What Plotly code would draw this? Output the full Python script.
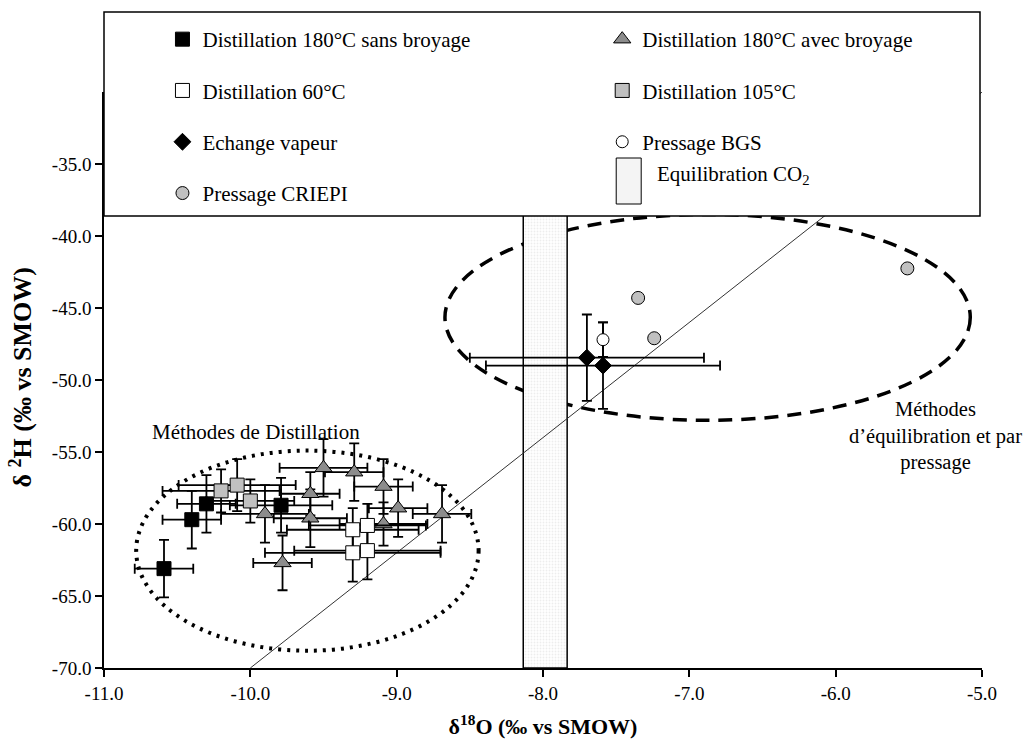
import plotly.graph_objects as go

# ---------------- data ----------------
SANS_X = [-10.59, -10.40, -10.30, -9.79]
SANS_Y = [-63.1, -59.7, -58.6, -58.7]
SANS_EX = [0.2, 0.2, 0.2, 0.35]
SANS_EY = [2.0, 2.0, 2.0, 1.9]

AVEC_X = [-9.90, -9.78, -9.59, -9.59, -9.50, -9.29, -9.09, -8.99, -8.69, -9.09]
AVEC_Y = [-59.3, -62.7, -57.9, -59.6, -56.1, -56.4, -57.4, -58.9, -59.3, -60.0]
AVEC_EX = [0.3, 0.2, 0.2, 0.25, 0.3, 0.2, 0.2, 0.2, 0.2, 0.3]
AVEC_EY = [2.0, 1.9, 1.5, 2.0, 2.0, 2.0, 1.9, 2.0, 2.0, 1.5]

D60_X = [-9.30, -9.20, -9.30, -9.20]
D60_Y = [-60.4, -60.1, -62.0, -61.85]
D60_EX = [0.45, 0.4, 0.6, 0.5]
D60_EY = [1.5, 1.5, 2.0, 2.0]

D105_X = [-10.20, -10.09, -10.00]
D105_Y = [-57.7, -57.3, -58.4]
D105_EX = [0.4, 0.4, 0.3]
D105_EY = [1.5, 1.8, 1.5]

ECH_X = [-7.70, -7.59]
ECH_Y = [-48.45, -49.0]
ECH_EX = [0.8, 0.8]
ECH_EY = [3.0, 3.0]

BGS_X = [-7.59]
BGS_Y = [-47.2]
BGS_EY = [1.2]

CRIEPI_X = [-7.35, -7.24, -5.51]
CRIEPI_Y = [-44.3, -47.1, -42.25]

CO2_X = [-7.985]
CO2_WIDTH = [0.3]
CO2_BASE = [-70.0]
CO2_TOP = [-30.0]

GMWL_X = [-10.0, -5.0]
GMWL_SLOPE = 8.0
GMWL_INTERCEPT = 10.0

X_TICKS = [-11, -10, -9, -8, -7, -6, -5]
X_TICK_LABELS = ["-11.0", "-10.0", "-9.0", "-8.0", "-7.0", "-6.0", "-5.0"]
Y_TICKS = [-70, -65, -60, -55, -50, -45, -40, -35]
Y_TICK_LABELS = ["-70.0", "-65.0", "-60.0", "-55.0", "-50.0", "-45.0", "-40.0", "-35.0"]

# ellipses (data coordinates)
DIST_ELLIPSE = dict(x0=-10.78, x1=-8.44, y0=-68.8, y1=-54.9)
EQUI_ELLIPSE = dict(x0=-8.67, x1=-5.08, y0=-52.8, y1=-38.5)

FONT = "Liberation Serif"

fig = go.Figure()

def err(arr):
    return dict(type="data", array=arr, visible=True, color="black", thickness=1.8, width=5)

# CO2 bar
fig.add_trace(go.Bar(
    x=CO2_X, y=[t - b for t, b in zip(CO2_TOP, CO2_BASE)], base=CO2_BASE, width=CO2_WIDTH,
    marker=dict(color="white", line=dict(color="black", width=1.5),
                pattern=dict(shape=".", fgcolor="#dcdcdc", size=3, solidity=0.3)),
    showlegend=False, hoverinfo="skip"))

# meteoric water line
fig.add_trace(go.Scatter(
    x=GMWL_X, y=[GMWL_SLOPE * v + GMWL_INTERCEPT for v in GMWL_X], mode="lines",
    line=dict(color="#333333", width=1), showlegend=False, hoverinfo="skip"))

fig.add_trace(go.Scatter(
    x=SANS_X, y=SANS_Y, mode="markers", name="Distillation 180°C sans broyage",
    marker=dict(symbol="square", size=14, color="black", line=dict(color="black", width=1)),
    error_x=err(SANS_EX), error_y=err(SANS_EY), legend="legend", legendgroup="a"))

fig.add_trace(go.Scatter(
    x=AVEC_X, y=AVEC_Y, mode="markers", name="Distillation 180°C avec broyage",
    marker=dict(symbol="triangle-up", size=15, color="#8c8c8c", line=dict(color="black", width=1)),
    error_x=err(AVEC_EX), error_y=err(AVEC_EY), legend="legend2", legendgroup="b"))

fig.add_trace(go.Scatter(
    x=D60_X, y=D60_Y, mode="markers", name="Distillation 60°C",
    marker=dict(symbol="square", size=14, color="white", line=dict(color="black", width=1)),
    error_x=err(D60_EX), error_y=err(D60_EY), legend="legend", legendgroup="c"))

fig.add_trace(go.Scatter(
    x=D105_X, y=D105_Y, mode="markers", name="Distillation 105°C",
    marker=dict(symbol="square", size=14, color="#c0c0c0", line=dict(color="black", width=1)),
    error_x=err(D105_EX), error_y=err(D105_EY), legend="legend2", legendgroup="d"))

fig.add_trace(go.Scatter(
    x=ECH_X, y=ECH_Y, mode="markers", name="Echange vapeur",
    marker=dict(symbol="diamond", size=13, color="black", line=dict(color="black", width=1)),
    error_x=err(ECH_EX), error_y=err(ECH_EY), legend="legend", legendgroup="e"))

fig.add_trace(go.Scatter(
    x=BGS_X, y=BGS_Y, mode="markers", name="Pressage BGS",
    marker=dict(symbol="circle", size=12, color="white", line=dict(color="black", width=1)),
    error_y=err(BGS_EY), legend="legend2", legendgroup="f"))

fig.add_trace(go.Scatter(
    x=CRIEPI_X, y=CRIEPI_Y, mode="markers", name="Pressage CRIEPI",
    marker=dict(symbol="circle", size=13, color="#c0c0c0", line=dict(color="black", width=1)),
    legend="legend", legendgroup="g"))

# ---------------- layout ----------------
L, R, T, B = 103.5, 46, 92, 78
W, H = 1028, 746
pw, ph = W - L - R, H - T - B

def px2paper_x(px):
    return (px - L) / pw

def px2paper_y(py):
    return (H - B - py) / ph

shapes = [
    dict(type="circle", xref="x", yref="y", layer="below",
         line=dict(color="black", width=4, dash="3px,6px"), **DIST_ELLIPSE),
    dict(type="circle", xref="x", yref="y", layer="below",
         line=dict(color="black", width=3.5, dash="14px,9px"), **EQUI_ELLIPSE),
    # legend box
    dict(type="rect", xref="paper", yref="paper", layer="above",
         x0=px2paper_x(103.5), x1=px2paper_x(980), y0=px2paper_y(216), y1=px2paper_y(12),
         fillcolor="white", line=dict(color="black", width=1.5)),
    # CO2 legend symbol
    dict(type="rect", xref="paper", yref="paper", layer="above",
         x0=px2paper_x(616), x1=px2paper_x(641), y0=px2paper_y(204), y1=px2paper_y(158),
         fillcolor="#f4f4f4", line=dict(color="black", width=1)),
]

annotations = [
    dict(text="Equilibration CO<sub>2</sub>", xref="paper", yref="paper",
         x=px2paper_x(655), y=px2paper_y(175), xanchor="left", yanchor="middle",
         showarrow=False, font=dict(family=FONT, size=21, color="black")),
    dict(text="Méthodes de Distillation", xref="x", yref="y", x=-9.96, y=-53.6,
         xanchor="center", yanchor="middle", showarrow=False,
         font=dict(family=FONT, size=21, color="black")),
    dict(text="Méthodes<br>d’équilibration et par<br>pressage", xref="x", yref="y", x=-5.32, y=-53.9,
         xanchor="center", yanchor="middle", align="center", showarrow=False,
         font=dict(family=FONT, size=20.5, color="black")),
    # y-axis title
    dict(text="<b>δ <sup>2</sup>H (‰ vs SMOW)</b>", xref="paper", yref="paper",
         x=px2paper_x(20), y=px2paper_y(378), xanchor="center", yanchor="middle",
         textangle=-90, showarrow=False, font=dict(family=FONT, size=26, color="black")),
]

legend_common = dict(font=dict(family=FONT, size=21, color="black"), bgcolor="rgba(0,0,0,0)",
                     borderwidth=0, tracegroupgap=21, orientation="v",
                     xanchor="left", yanchor="top", itemsizing="trace")

fig.update_layout(
    width=W, height=H,
    margin=dict(l=L, r=R, t=T, b=B, pad=0),
    paper_bgcolor="white", plot_bgcolor="white",
    font=dict(family=FONT, size=19, color="black"),
    barmode="overlay",
    shapes=shapes, annotations=annotations,
    legend=dict(x=px2paper_x(162), y=px2paper_y(19), **legend_common),
    legend2=dict(x=px2paper_x(602), y=px2paper_y(19), **legend_common),
    xaxis=dict(range=[-11, -5], tickvals=X_TICKS, ticktext=X_TICK_LABELS, showgrid=False, zeroline=False,
               showline=True, linecolor="black", linewidth=1.5, ticks="outside", ticklen=7,
               tickcolor="black", tickwidth=1.5, tickfont=dict(family=FONT, size=19),
               title=dict(text="<b>δ<sup>18</sup>O (‰ vs SMOW)</b>", font=dict(family=FONT, size=22),
                          standoff=16)),
    yaxis=dict(range=[-70, -30], tickvals=Y_TICKS, ticktext=Y_TICK_LABELS, showgrid=False, zeroline=False,
               showline=True, linecolor="black", linewidth=1.5, ticks="outside", ticklen=7,
               tickcolor="black", tickwidth=1.5, tickfont=dict(family=FONT, size=19)),
)

fig.write_html("out.html")
